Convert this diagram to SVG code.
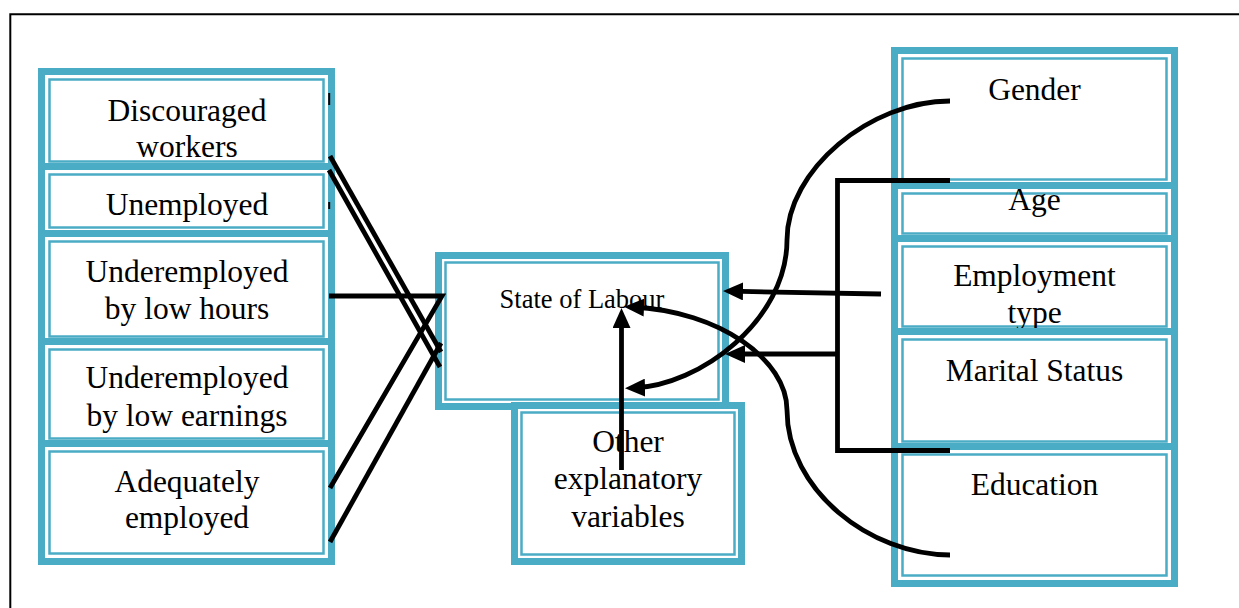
<svg xmlns="http://www.w3.org/2000/svg" width="1239" height="608" viewBox="0 0 1239 608">
<style>
.outer{fill:#fff;stroke:#4BACC6;stroke-width:7}
.inner{fill:none;stroke:#4BACC6;stroke-width:2.5}
.t{font-family:"Liberation Serif","Times New Roman",serif;font-size:31.5px;text-anchor:middle;fill:#000}
.c{fill:none;stroke:#000;stroke-width:4.8}
.tick{stroke:#000;stroke-width:2}
</style>
<defs>
<marker id="ah" markerUnits="userSpaceOnUse" viewBox="0 0 20 18" markerWidth="20" markerHeight="18" refX="12" refY="9" orient="auto">
<path d="M0,0 L20,9 L0,18 z" fill="#000"/>
</marker>
</defs>
<rect width="1239" height="608" fill="#fff"/>
<path d="M10.3,608 V14.3 H1239" fill="none" stroke="#000" stroke-width="2"/>

<g id="discouraged">
<rect class="outer" x="41.5" y="71.5" width="290" height="98"/>
<rect class="inner" x="49.5" y="79.5" width="274" height="82"/>
<text class="t" x="187" y="121">Discouraged</text>
<text class="t" x="187" y="157">workers</text>
</g>
<g id="unemployed">
<rect class="outer" x="41.5" y="166.5" width="290" height="69"/>
<rect class="inner" x="49.5" y="174.5" width="274" height="53"/>
<text class="t" x="187" y="215">Unemployed</text>
</g>
<g id="under-hours">
<rect class="outer" x="41.5" y="233.5" width="290" height="111"/>
<rect class="inner" x="49.5" y="241.5" width="274" height="95"/>
<text class="t" x="187" y="282">Underemployed</text>
<text class="t" x="187" y="319">by low hours</text>
</g>
<g id="under-earnings">
<rect class="outer" x="41.5" y="341.5" width="290" height="105"/>
<rect class="inner" x="49.5" y="349.5" width="274" height="89"/>
<text class="t" x="187" y="388">Underemployed</text>
<text class="t" x="187" y="426">by low earnings</text>
</g>
<g id="adequate">
<rect class="outer" x="41.5" y="443.5" width="290" height="118"/>
<rect class="inner" x="49.5" y="451.5" width="274" height="102"/>
<text class="t" x="187" y="492">Adequately</text>
<text class="t" x="187" y="528">employed</text>
</g>

<g id="state">
<rect class="outer" x="438.5" y="255.5" width="287" height="151"/>
<rect class="inner" x="445.5" y="262.5" width="273" height="137"/>
<text class="t" x="582" y="308" style="font-size:26.5px">State of Labour</text>
</g>
<g id="other">
<rect class="outer" x="514.5" y="405.5" width="227" height="156"/>
<rect class="inner" x="521.5" y="412.5" width="213" height="142"/>
<text class="t" x="628" y="452">Other</text>
<text class="t" x="628" y="489">explanatory</text>
<text class="t" x="628" y="527">variables</text>
</g>

<g id="gender">
<rect class="outer" x="894.5" y="50.5" width="280" height="137"/>
<rect class="inner" x="902.5" y="58.5" width="264" height="121"/>
<text class="t" x="1034.5" y="100">Gender</text>
</g>
<g id="age">
<rect class="outer" x="894.5" y="185.5" width="280" height="56"/>
<rect class="inner" x="902.5" y="193.5" width="264" height="40"/>
<text class="t" x="1034.5" y="210">Age</text>
</g>
<g id="employment">
<rect class="outer" x="894.5" y="238.5" width="280" height="96"/>
<rect class="inner" x="902.5" y="246.5" width="264" height="80"/>
<text class="t" x="1034.5" y="286">Employment</text>
<text class="t" x="1034.5" y="323">type</text>
</g>
<g id="marital">
<rect class="outer" x="894.5" y="331.5" width="280" height="118"/>
<rect class="inner" x="902.5" y="339.5" width="264" height="102"/>
<text class="t" x="1034.5" y="381">Marital Status</text>
</g>
<g id="education">
<rect class="outer" x="894.5" y="446.5" width="280" height="137"/>
<rect class="inner" x="902.5" y="454.5" width="264" height="121"/>
<text class="t" x="1034.5" y="495">Education</text>
</g>

<g id="connectors">
<line class="tick" x1="329.2" y1="93" x2="329.2" y2="105"/>
<line class="tick" x1="329.2" y1="202" x2="329.2" y2="209"/>
<path class="c" d="M330,156 L441,352"/>
<path class="c" d="M329,170 L440,367"/>
<path class="c" d="M329,296 L442,296 L330,488" stroke-linejoin="miter"/>
<path class="c" d="M441,343 L330,542"/>
<path class="c" d="M950,180.5 H837.5 V450.5 H950"/>
<path class="c" d="M837.5,354 H733" marker-end="url(#ah)"/>
<path class="c" d="M881,294 L731,291.2" marker-end="url(#ah)"/>
<path class="c" d="M621.5,470 V316" marker-end="url(#ah)"/>
<path class="c" d="M950,101 C870,101 787,170 787,240 C787,320 700,386 633,388" marker-end="url(#ah)"/>
<path class="c" d="M950,555 C870,555 787,490 787,410 C787,360 720,311 632,307" marker-end="url(#ah)"/>
</g>
</svg>
